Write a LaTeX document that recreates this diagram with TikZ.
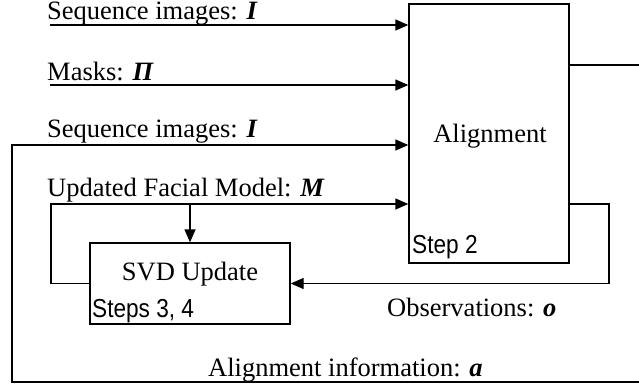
\documentclass[tikz,border=0pt]{standalone}
\usepackage{fontspec}
\setmainfont{Liberation Serif}
\setsansfont[FakeStretch=0.87]{Liberation Sans}
\usetikzlibrary{arrows.meta}
\begin{document}
\begin{tikzpicture}[x=1pt,y=-1pt,
  line/.style={line width=1.4pt},
  arr/.style={line width=1.4pt,-{Triangle[length=13pt,width=11pt]}},
  box/.style={draw,line width=1.4pt,rectangle,inner sep=0pt},
  lbl/.style={anchor=base west,inner sep=0pt,font=\fontsize{26.5}{30}\selectfont},
  slbl/.style={anchor=base west,inner sep=0pt,font=\sffamily\fontsize{26}{30}\selectfont}]
\useasboundingbox (0,0) rectangle (639,389);
\fill[white] (0,0) rectangle (639,389);
% boxes
\node[box,minimum width=160pt,minimum height=259pt] (align) at (489,133.5) {};
\node[font=\fontsize{26.5}{30}\selectfont,anchor=base,inner sep=0pt] (alignlbl) at (490,142) {Alignment};
\node[slbl] (step2) at (412,253) {Step 2};
\node[box,minimum width=200pt,minimum height=81pt] (svd) at (190,283.5) {};
\node[font=\fontsize{26.5}{30}\selectfont,anchor=base,inner sep=0pt] (svdlbl) at (190,280) {SVD Update};
\node[slbl] (steps34) at (92,317) {Steps 3, 4};
% labels
\node[lbl] (t1) at (47,19.5) {Sequence images: \textbf{\textit{I}}};
\node[lbl] (t2) at (47,80) {Masks: \textbf{\textit{Π}}};
\node[lbl] (t3) at (47,137) {Sequence images: \textbf{\textit{I}}};
\node[lbl] (t4) at (47,196) {Updated Facial Model: \textbf{\textit{M}}};
\node[lbl] (t5) at (387,316) {Observations: \textbf{\textit{o}}};
\node[lbl] (t6) at (208,376) {Alignment information: \textbf{\textit{a}}};
% free ends
\coordinate (s1) at (50,25);
\coordinate (s2) at (50,85);
\coordinate (lc) at (51,204);
\coordinate (bc) at (190,204);
\coordinate (rc1) at (609,204);
\coordinate (rc2) at (609,283.5);
\coordinate (oR) at (639,65);
\coordinate (bR) at (639,382);
\coordinate (bL) at (12,382);
\coordinate (tL) at (12,145);
% connectors
\draw[arr] (s1) -- (s1 -| align.west);
\draw[arr] (s2) -- (s2 -| align.west);
\draw[arr] (bR) -- (bL) -- (tL) -- (tL -| align.west);
\draw[arr] (svd.west) -- (svd.west -| lc) -- (lc) -- (lc -| align.west);
\draw[arr] (bc) -- (svd.north);
\draw[arr] (rc1 -| align.east) -- (rc1) -- (rc2) -- (svd.east);
\draw[line] (oR -| align.east) -- (oR);
\end{tikzpicture}
\end{document}
